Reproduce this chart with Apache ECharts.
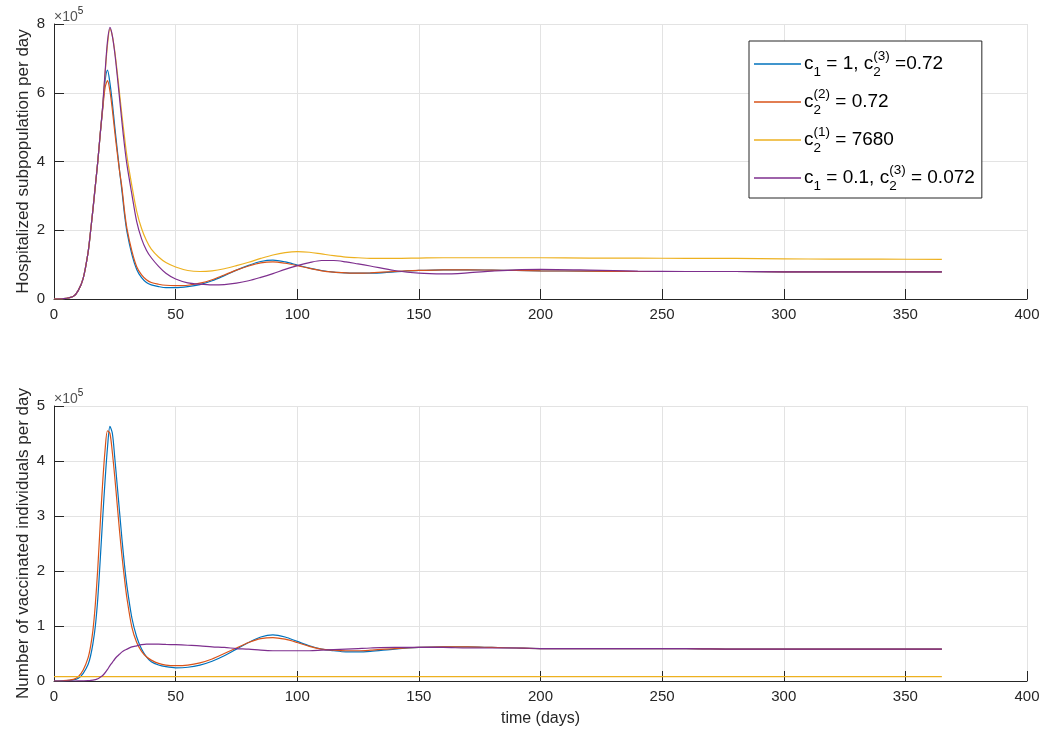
<!DOCTYPE html>
<html>
<head>
<meta charset="utf-8">
<script src="https://cdn.jsdelivr.net/npm/echarts@6/dist/echarts.min.js"></script>
<style>
  html, body { margin: 0; padding: 0; background: #fff; }
  #chart { width: 1056px; height: 733px; }
</style>
</head>
<body>
<div id="chart"></div>
<script>
// Sample days shared by the curves
const days = [0,4,8,10,12,14,15,16,17,18,19,20,21,22,23,24,25,26,27,28,29,30,32,34,36,38,40,43,46,50,55,60,65,70,75,80,85,90,95,100,105,110,115,120,125,130,140,150,160,170,180,190,200,220,240,260,280,300,320,340,365];

// Hospitalized subpopulation per day (units of 1e5)
const hospBlue = [0,0.01,0.08,0.25,0.6, 1.35,1.95,2.6,3.3,4.0, 4.8,5.55,6.35,6.66,6.28, 5.7,5.0,4.35,3.7,3.1, 2.45,1.95,1.3,0.86,0.62, 0.48,0.41,0.36,0.33,0.33, 0.36,0.42,0.53,0.68,0.84, 0.98,1.09,1.13,1.08,0.99, 0.9,0.83,0.78,0.76,0.75, 0.75,0.79,0.83,0.85,0.85, 0.84,0.83,0.82,0.81,0.8, 0.8,0.8,0.79,0.79,0.79, 0.79];
const hospRed = [0,0.01,0.08,0.25,0.6, 1.35,1.95,2.6,3.3,4.0, 4.8,5.5,6.15,6.35,6.05, 5.5,4.85,4.25,3.7,3.2, 2.55,2.05,1.4,0.94,0.7, 0.56,0.48,0.43,0.4,0.39, 0.4,0.46,0.56,0.7,0.84, 0.96,1.05,1.08,1.04,0.97, 0.89,0.82,0.78,0.76,0.75, 0.76,0.8,0.83,0.85,0.85, 0.84,0.83,0.82,0.81,0.8, 0.8,0.8,0.79,0.79,0.79, 0.79];
const hospYellow = [0,0.01,0.08,0.25,0.6, 1.35,1.95,2.6,3.3,4.0, 4.8,5.6,6.55,7.4,7.85, 7.65,7.2,6.6,5.95,5.3, 4.7,4.15,3.3,2.55,2.05, 1.7,1.45,1.22,1.06,0.93, 0.83,0.8,0.82,0.88,0.97, 1.07,1.18,1.28,1.35,1.38, 1.36,1.31,1.26,1.22,1.2, 1.18,1.18,1.19,1.2,1.2, 1.2,1.2,1.2,1.19,1.19, 1.18,1.18,1.17,1.16,1.16, 1.15];
const hospPurple = [0,0.01,0.08,0.25,0.6, 1.35,1.95,2.6,3.3,4.0, 4.8,5.6,6.6,7.5,7.9, 7.65,7.15,6.5,5.8,5.1, 4.45,3.9,3.05,2.25,1.75, 1.42,1.2,0.95,0.75,0.58, 0.47,0.43,0.41,0.42,0.46, 0.53,0.63,0.74,0.86,0.97, 1.06,1.12,1.12,1.08,1.02, 0.96,0.83,0.75,0.73,0.76, 0.81,0.85,0.86,0.84,0.81, 0.8,0.8,0.79,0.79,0.79, 0.79];

// Number of vaccinated individuals per day (units of 1e5)
const vaccBlue = [0,0.003,0.02,0.05,0.14, 0.3,0.45,0.68,1.0,1.5, 2.2,2.95,3.65,4.25,4.63, 4.5,4.05,3.55,3.05,2.55, 2.1,1.72,1.15,0.8,0.58, 0.44,0.35,0.29,0.26,0.24, 0.25,0.29,0.36,0.46,0.58, 0.7,0.8,0.84,0.8,0.72, 0.64,0.58,0.55,0.53,0.53, 0.54,0.58,0.61,0.62,0.62, 0.61,0.6,0.59,0.59,0.59, 0.59,0.58,0.58,0.58,0.58, 0.58];
const vaccRed = [0,0.005,0.03,0.08,0.2, 0.42,0.62,0.92,1.4,2.05, 2.85,3.6,4.2,4.55,4.5, 4.15,3.7,3.2,2.7,2.25, 1.85,1.5,0.98,0.7,0.54, 0.44,0.38,0.32,0.29,0.28, 0.29,0.33,0.4,0.5,0.6, 0.7,0.77,0.79,0.76,0.7, 0.63,0.58,0.56,0.55,0.55, 0.56,0.59,0.61,0.62,0.62, 0.61,0.6,0.59,0.59,0.59, 0.59,0.58,0.58,0.58,0.58, 0.58];
const vaccPurple = [0,0,0,0.001,0.003, 0.006,0.01,0.015,0.025,0.04, 0.07,0.1,0.15,0.21,0.28, 0.34,0.4,0.45,0.49,0.53, 0.56,0.58,0.62,0.64,0.66, 0.67,0.67,0.67,0.665,0.66, 0.65,0.64,0.62,0.61,0.59, 0.58,0.56,0.55,0.55,0.55, 0.55,0.56,0.57,0.58,0.59, 0.6,0.61,0.61,0.61,0.6, 0.6,0.6,0.59,0.59,0.59, 0.59,0.58,0.58,0.58,0.58, 0.58];
const vaccYellowDays = [0, 365];
const vaccYellow = [0.08, 0.08];

// Axis ticks
const xTicks = { min: 0, max: 400, interval: 50 };
const hospTicks = { min: 0, max: 8, interval: 2 };
const vaccTicks = { min: 0, max: 5, interval: 1 };

const names = ['blue', 'red', 'yellow', 'purple'];
const colors = { blue: '#0072BD', red: '#D95319', yellow: '#EDB120', purple: '#7E2F8E' };
const legendLabels = {
  blue: '{t|c}{sb|1}{t| = 1, c}{sb0|2}{sp|(3)}{t| =0.72}',
  red: '{t|c}{sb0|2}{sp|(2)}{t| = 0.72}',
  yellow: '{t|c}{sb0|2}{sp|(1)}{t| = 7680}',
  purple: '{t|c}{sb|1}{t| = 0.1, c}{sb0|2}{sp|(3)}{t| = 0.072}'
};

const FONT = '"Liberation Sans", Arial, Helvetica, sans-serif';
const INK = '#262626';

function pairs(xs, ys) { return xs.map((x, i) => [x, ys[i]]); }

function lineSeries(name, xs, ys, idx) {
  return {
    name: name, type: 'line', xAxisIndex: idx, yAxisIndex: idx,
    data: pairs(xs, ys), symbol: 'none', smooth: 0.3,
    lineStyle: { color: colors[name], width: 1.2 },
    itemStyle: { color: colors[name] },
    emphasis: { disabled: true }, animation: false
  };
}

function xAxisFor(idx, withName) {
  return {
    type: 'value', gridIndex: idx, min: xTicks.min, max: xTicks.max, interval: xTicks.interval,
    axisLine: { show: true, onZero: false, lineStyle: { color: INK, width: 1 } },
    axisTick: { show: true, inside: true, length: 10, lineStyle: { color: INK } },
    axisLabel: { color: INK, fontSize: 15, fontFamily: FONT, margin: 8 },
    splitLine: { show: true, lineStyle: { color: '#e3e3e3', width: 1 } },
    name: withName ? 'time (days)' : '', nameLocation: 'middle', nameGap: 30,
    nameMoveOverlap: false,
    nameTextStyle: { color: INK, fontSize: 16, fontFamily: FONT }
  };
}

function yAxisFor(idx, ticks, title) {
  return {
    type: 'value', gridIndex: idx, min: ticks.min, max: ticks.max, interval: ticks.interval,
    axisLine: { show: true, lineStyle: { color: INK, width: 1 } },
    axisTick: { show: true, inside: true, length: 10, lineStyle: { color: INK } },
    axisLabel: { color: INK, fontSize: 15, fontFamily: FONT, margin: 9 },
    splitLine: { show: true, lineStyle: { color: '#e3e3e3', width: 1 } },
    name: title, nameLocation: 'middle', nameRotate: 90, nameGap: 22,
    nameMoveOverlap: false,
    nameTextStyle: { color: INK, fontSize: 17, fontFamily: FONT }
  };
}

function scaleLabel(top) {
  return {
    type: 'text', left: 54, top: top,
    style: {
      text: '{m|×10}{s|5}', fill: INK,
      rich: {
        m: { fontSize: 14, fontFamily: FONT, fill: '#555', verticalAlign: 'bottom', lineHeight: 18 },
        s: { fontSize: 10, fontFamily: FONT, fill: INK, verticalAlign: 'top', lineHeight: 12 }
      }
    }
  };
}

const chart = echarts.init(document.getElementById('chart'), null, { renderer: 'canvas' });
chart.setOption({
  backgroundColor: '#ffffff',
  animation: false,
  grid: [
    { left: 54, top: 24, width: 973, height: 275, containLabel: false },
    { left: 54, top: 406, width: 973, height: 275, containLabel: false }
  ],
  xAxis: [xAxisFor(0, false), xAxisFor(1, true)],
  yAxis: [
    yAxisFor(0, hospTicks, 'Hospitalized subpopulation per day'),
    yAxisFor(1, vaccTicks, 'Number of vaccinated individuals per day')
  ],
  legend: {
    data: names, orient: 'vertical', left: 749, top: 41,
    padding: [8, 7, 5, 5], itemGap: 8, itemWidth: 47, itemHeight: 1.3, icon: 'rect',
    backgroundColor: '#ffffff', borderColor: INK, borderWidth: 1, borderRadius: 0,
    selectedMode: false,
    formatter: function (n) { return legendLabels[n]; },
    textStyle: {
      color: '#000', fontFamily: FONT, padding: [0, 0, 0, -2],
      rich: {
        t: { fontSize: 19, fontFamily: FONT, color: '#000', lineHeight: 30, verticalAlign: 'middle' },
        sb: { fontSize: 13.5, fontFamily: FONT, color: '#000', lineHeight: 16, verticalAlign: 'bottom' },
        sb0: { fontSize: 13.5, fontFamily: FONT, color: '#000', lineHeight: 16, verticalAlign: 'bottom', width: 0 },
        sp: { fontSize: 13.5, fontFamily: FONT, color: '#000', lineHeight: 16, verticalAlign: 'top' }
      }
    }
  },
  graphic: [scaleLabel(6), scaleLabel(388)],
  series: [
    lineSeries('blue', days, hospBlue, 0),
    lineSeries('red', days, hospRed, 0),
    lineSeries('yellow', days, hospYellow, 0),
    lineSeries('purple', days, hospPurple, 0),
    lineSeries('blue', days, vaccBlue, 1),
    lineSeries('red', days, vaccRed, 1),
    lineSeries('yellow', vaccYellowDays, vaccYellow, 1),
    lineSeries('purple', days, vaccPurple, 1)
  ]
});
</script>
</body>
</html>
